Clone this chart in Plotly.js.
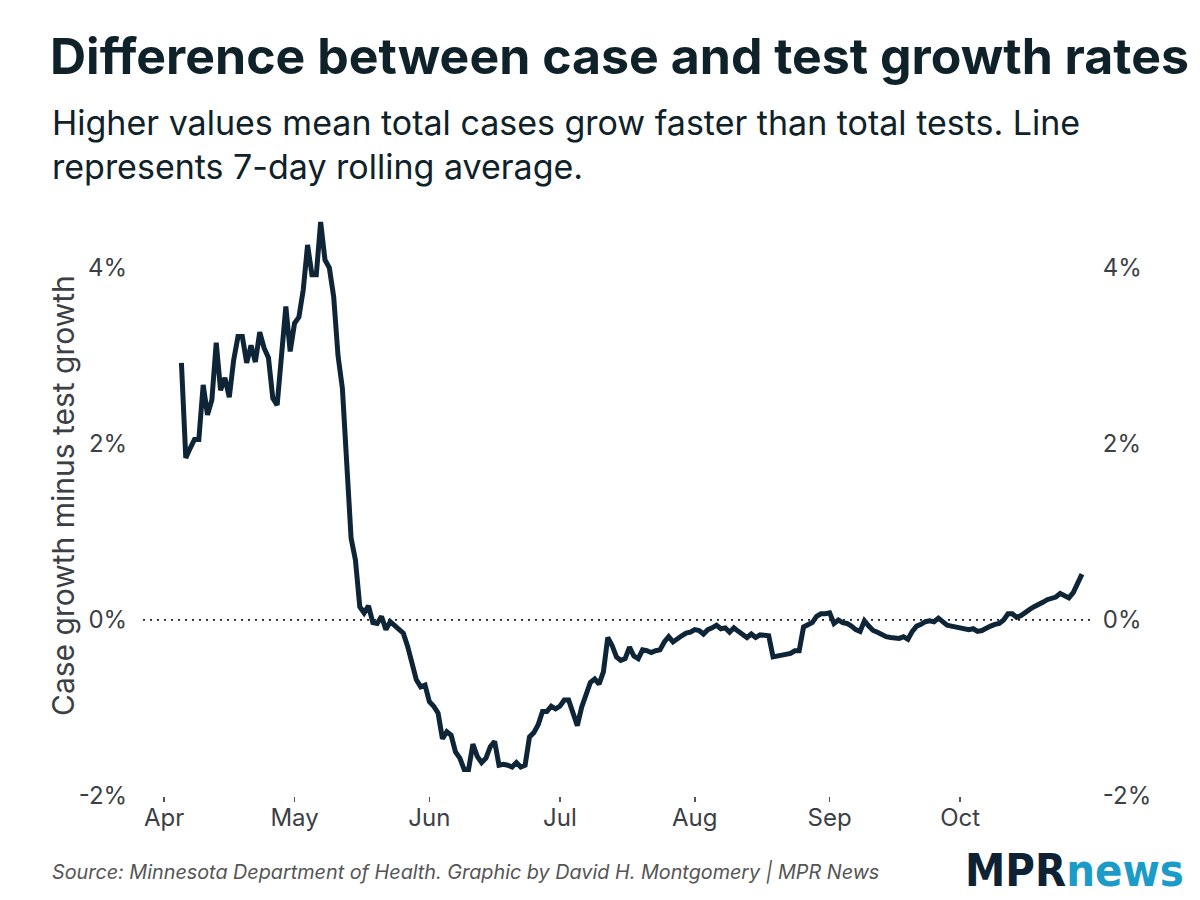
<!DOCTYPE html>
<html>
<head>
<meta charset="utf-8">
<script src="https://cdn.plot.ly/plotly-3.0.1.min.js"></script>
<style>
html,body{margin:0;padding:0;background:#fff;}
#chart{width:1200px;height:900px;}
</style>
</head>
<body>
<div id="chart"></div>
<script>
// ---- Data ----
const startDate = '2020-04-05';
const diffValues = [
  2.92, 1.84, 1.95, 2.05, 2.05, 2.67, 2.33, 2.50, 3.15, 2.61,
  2.75, 2.53, 2.95, 3.22, 3.22, 2.92, 3.12, 2.93, 3.27, 3.09,
  2.98, 2.52, 2.44, 3.03, 3.56, 3.05, 3.37, 3.44, 3.75, 4.26,
  3.92, 3.92, 4.52, 4.09, 4.00, 3.67, 3.00, 2.63, 1.75, 0.93,
  0.68, 0.15, 0.08, 0.16, -0.03, -0.04, 0.04, -0.11, -0.02, -0.06,
  -0.11, -0.15, -0.30, -0.47, -0.68, -0.76, -0.74, -0.93, -0.98, -1.06,
  -1.35, -1.27, -1.31, -1.50, -1.57, -1.70, -1.70, -1.41, -1.55, -1.62,
  -1.57, -1.44, -1.38, -1.65, -1.64, -1.65, -1.67, -1.62, -1.67, -1.65,
  -1.33, -1.28, -1.19, -1.04, -1.04, -0.98, -1.01, -0.98, -0.91, -0.91,
  -1.06, -1.20, -0.99, -0.84, -0.71, -0.67, -0.73, -0.59, -0.20, -0.29,
  -0.42, -0.46, -0.44, -0.31, -0.41, -0.44, -0.34, -0.35, -0.37, -0.35,
  -0.34, -0.25, -0.19, -0.25, -0.21, -0.18, -0.15, -0.14, -0.11, -0.12,
  -0.16, -0.11, -0.09, -0.06, -0.10, -0.09, -0.14, -0.09, -0.13, -0.16,
  -0.20, -0.16, -0.20, -0.17, -0.17, -0.18, -0.42, -0.41, -0.40, -0.38,
  -0.38, -0.35, -0.35, -0.08, -0.05, -0.03, 0.04, 0.07, 0.07, 0.08,
  -0.04, 0.00, -0.03, -0.04, -0.07, -0.11, -0.13, -0.01, -0.07, -0.12,
  -0.14, -0.17, -0.19, -0.20, -0.20, -0.21, -0.19, -0.22, -0.13, -0.07,
  -0.05, -0.02, -0.01, -0.02, 0.02, -0.03, -0.06, -0.07, -0.08, -0.09,
  -0.10, -0.11, -0.10, -0.13, -0.12, -0.09, -0.07, -0.05, -0.04, 0.00,
  0.07, 0.07, 0.03, 0.05, 0.09, 0.12, 0.15, 0.17, 0.20, 0.23,
  0.24, 0.26, 0.30, 0.28, 0.25, 0.31, 0.42, 0.52
];
const yTickVals = [-2, 0, 2, 4];
const yTickText = ['-2%', '0%', '2%', '4%'];
const xTickVals = ['2020-04-01', '2020-05-01', '2020-06-01', '2020-07-01', '2020-08-01', '2020-09-01', '2020-10-01'];
const xTickText = ['Apr', 'May', 'Jun', 'Jul', 'Aug', 'Sep', 'Oct'];

// dates for each daily value
const dates = diffValues.map((v, i) => {
  const d = new Date(startDate + 'T00:00:00Z');
  d.setUTCDate(d.getUTCDate() + i);
  return d.toISOString().slice(0, 10);
});

const FONT = 'Inter, "Noto Sans", Roboto, sans-serif';
const DARK = '#0f2129';
const GREY = '#3b4045';

// plot area in pixels (for placing annotations)
const L = 143, R = 1095, T = 215, B = 796;
const px = x => (x - L) / (R - L);
const py = y => (B - y) / (B - T);

const trace = {
  type: 'scatter',
  mode: 'lines',
  x: dates,
  y: diffValues,
  line: {color: '#0e2538', width: 5, shape: 'linear'},
  hoverinfo: 'x+y'
};
const trace2 = {
  type: 'scatter', mode: 'lines', x: dates, y: diffValues,
  yaxis: 'y2', line: {color: 'rgba(0,0,0,0)', width: 0}, hoverinfo: 'skip', showlegend: false
};

const layout = {
  width: 1200, height: 900,
  paper_bgcolor: '#ffffff', plot_bgcolor: '#ffffff',
  margin: {l: L, r: 1200 - R, t: T, b: 900 - B},
  showlegend: false,
  font: {family: FONT, color: GREY},
  title: {
    text: 'Difference between case and test growth rates',
    font: {family: FONT, size: 50, color: DARK, weight: 700},
    x: 50 / 1200, xref: 'container', xanchor: 'left',
    y: 1 - 74 / 900, yref: 'container', yanchor: 'bottom', pad: {b: 0}
  },
  xaxis: {
    type: 'date',
    range: ['2020-03-27 04:00', '2020-11-01'],
    tickvals: xTickVals, ticktext: xTickText,
    ticks: 'outside', ticklen: 5, tickwidth: 1.5, tickcolor: '#555',
    ticklabelstandoff: -5,
    tickfont: {family: FONT, size: 24, color: GREY},
    showgrid: false, zeroline: false, showline: false
  },
  yaxis: {
    range: [-2, 4.6],
    tickvals: yTickVals, ticktext: yTickText,
    ticks: 'outside', ticklen: 10, tickcolor: 'rgba(0,0,0,0)',
    tickfont: {family: FONT, size: 24, color: GREY},
    showgrid: false, zeroline: false, showline: false
  },
  yaxis2: {
    range: [-2, 4.6], overlaying: 'y', side: 'right', anchor: 'x',
    tickvals: yTickVals, ticktext: yTickText,
    ticks: 'outside', ticklen: 2, tickcolor: 'rgba(0,0,0,0)',
    tickfont: {family: FONT, size: 24, color: GREY},
    showgrid: false, zeroline: false, showline: false
  },
  shapes: [{
    type: 'line', xref: 'paper', x0: 0, x1: 1, yref: 'y', y0: 0, y1: 0,
    line: {color: '#222', width: 1.8, dash: '2px,5px'}, layer: 'below'
  }],
  annotations: [
    {
      text: 'Higher values mean total cases grow faster than total tests. Line<br>represents 7-day rolling average.',
      xref: 'paper', yref: 'paper',
      x: px(50), y: py(144), xanchor: 'left', yanchor: 'middle',
      align: 'left', showarrow: false,
      font: {family: FONT, size: 34, color: DARK}
    },
    {
      text: 'Case growth minus test growth',
      xref: 'paper', yref: 'paper', textangle: -90,
      x: px(63), y: py(496), xanchor: 'center', yanchor: 'middle',
      showarrow: false,
      font: {family: FONT, size: 30, color: GREY}
    },
    {
      text: 'Source: Minnesota Department of Health. Graphic by David H. Montgomery | MPR News',
      xref: 'paper', yref: 'paper',
      x: px(50), y: py(872), xanchor: 'left', yanchor: 'middle',
      showarrow: false,
      font: {family: FONT, size: 19.8, color: '#555', style: 'italic'}
    },
    {
      text: '<span style="color:#0e2233">MPR</span><span style="color:#1b9cc8">news</span>',
      xref: 'paper', yref: 'paper',
      x: px(1186), y: py(870), xanchor: 'right', yanchor: 'middle',
      showarrow: false,
      font: {family: '"Liberation Sans Narrow", "DejaVu Sans Condensed", Inter, sans-serif', size: 45, color: '#0e2233', weight: 900}
    }
  ]
};

Plotly.newPlot('chart', [trace, trace2], layout, {displayModeBar: false, staticPlot: true});
</script>
</body>
</html>
